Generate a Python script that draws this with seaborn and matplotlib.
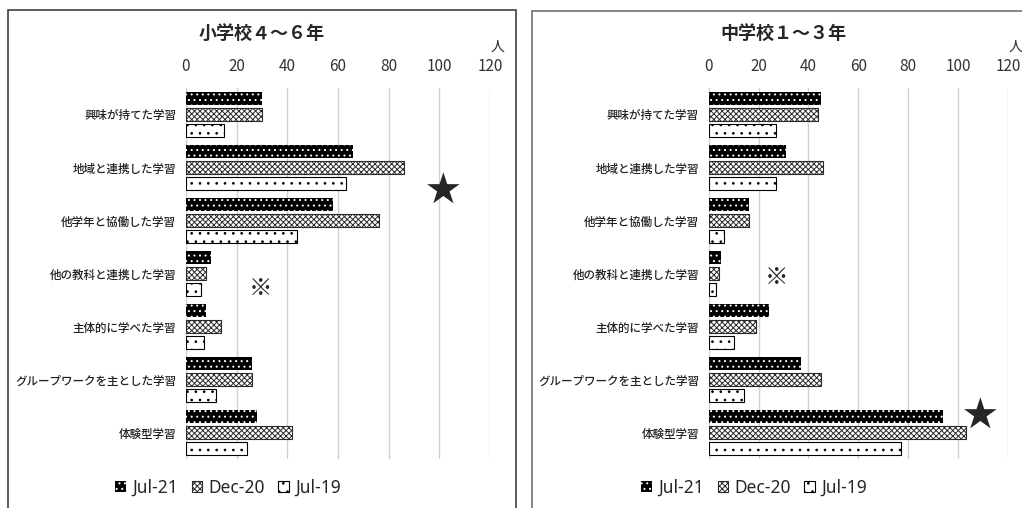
import matplotlib.pyplot as plt
import seaborn as sns
import numpy as np
import pandas as pd
from matplotlib.patches import Patch, Rectangle

categorias = ['興味が持てた学習', '地域と連携した学習', '他学年と協働した学習',
              '他の教科と連携した学習', '主体的に学べた学習',
              'グループワークを主とした学習', '体験型学習']
periodos = ['Jul-21', 'Dec-20', 'Jul-19']

# 小学校4～6年
primaria_jul21 = [30, 66, 58, 10, 8, 26, 28]
primaria_dec20 = [30, 86, 76, 8, 14, 26, 42]
primaria_jul19 = [15, 63, 44, 6, 7, 12, 24]

# 中学校1～3年
secundaria_jul21 = [45, 31, 16, 5, 24, 37, 94]
secundaria_dec20 = [44, 46, 16, 4, 19, 45, 103]
secundaria_jul19 = [27, 27, 6, 3, 10, 14, 77]

titulos = ['小学校４～６年', '中学校１～３年']
ticks_x = [0, 20, 40, 60, 80, 100, 120]

estilos = {
    'Jul-21': dict(facecolor='black', edgecolor='white', hatch='...', linewidth=0),
    'Dec-20': dict(facecolor='white', edgecolor='#2a2a2a', hatch='xxxxxx', linewidth=0.8),
    'Jul-19': dict(facecolor='white', edgecolor='black', hatch='..', linewidth=0.8),
}


def armar_df(a, b, c):
    filas = []
    for serie, vals in zip(periodos, [a, b, c]):
        for cat, v in zip(categorias, vals):
            filas.append({'項目': cat, '時期': serie, '人数': v})
    return pd.DataFrame(filas)


sns.set_style('white')
plt.rcParams['font.family'] = ['Noto Sans CJK JP', 'DejaVu Sans']
plt.rcParams['hatch.linewidth'] = 0.7

fig = plt.figure(figsize=(10.22, 5.08), dpi=100)

# marcos de cada panel
fig.add_artist(Rectangle((8 / 1022, -0.05), 508 / 1022, 1.05 - 10 / 508,
                         transform=fig.transFigure, fill=False,
                         edgecolor='#404040', linewidth=1.2))
fig.add_artist(Rectangle((531.5 / 1022, -0.05), 0.6, 1.05 - 11 / 508,
                         transform=fig.transFigure, fill=False,
                         edgecolor='#707070', linewidth=1.2))

paneles = [
    dict(df=armar_df(primaria_jul21, primaria_dec20, primaria_jul19),
         pos=[186 / 1022, 49 / 508, 304 / 1022, 371 / 508],
         titulo_x=262 / 1022, leyenda_x=228 / 1022,
         nota=(0.245, 0.46), estrella=(0.845, 0.722)),
    dict(df=armar_df(secundaria_jul21, secundaria_dec20, secundaria_jul19),
         pos=[708.7 / 1022, 49 / 508, 299.3 / 1022, 371 / 508],
         titulo_x=783.5 / 1022, leyenda_x=754 / 1022,
         nota=(0.228, 0.49), estrella=(0.906, 0.115)),
]

for titulo, p in zip(titulos, paneles):
    ax = fig.add_axes(p['pos'])
    sns.barplot(data=p['df'], x='人数', y='項目', hue='時期', hue_order=periodos,
                order=categorias, orient='h', palette=['black', 'white', 'white'],
                width=0.9, gap=0.22, legend=False, ax=ax)
    for serie, cont in zip(periodos, ax.containers):
        for barra in cont:
            barra.set(**estilos[serie])

    ax.set_xlim(0, 120)
    ax.set_xticks(ticks_x)
    ax.xaxis.tick_top()
    ax.tick_params(axis='x', length=0, pad=9, labelsize=11, labelcolor='#333333')
    ax.tick_params(axis='y', length=0, pad=7, labelsize=8.3, labelcolor='#222222')
    for lbl in ax.get_yticklabels():
        lbl.set_fontweight('medium')
    ax.set_xlabel('')
    ax.set_ylabel('')
    ax.grid(axis='x', color='#d0d0d0', linewidth=1)
    ax.set_axisbelow(True)
    for s in ax.spines.values():
        s.set_visible(False)

    ax.text(1.025, 1.11, '人', transform=ax.transAxes, ha='center', va='center',
            fontsize=10)
    ax.text(*p['nota'], '※', transform=ax.transAxes, ha='center', va='center',
            fontsize=17)
    ax.text(*p['estrella'], '★', transform=ax.transAxes, ha='center', va='center',
            fontsize=25)

    fig.text(p['titulo_x'], 1 - 33 / 508, titulo, ha='center', va='center',
             fontsize=13, fontweight='bold')

    manijas = [Patch(label=s, **estilos[s]) for s in periodos]
    ax.legend(handles=manijas, loc='center', bbox_to_anchor=(p['leyenda_x'], 20 / 508),
              bbox_transform=fig.transFigure, ncol=3, frameon=False,
              handlelength=0.6, handleheight=0.6,
              handletextpad=0.35, columnspacing=0.8,
              prop={'family': ['Noto Sans', 'DejaVu Sans'], 'size': 12.5})

fig.savefig('out.png', dpi=100)
